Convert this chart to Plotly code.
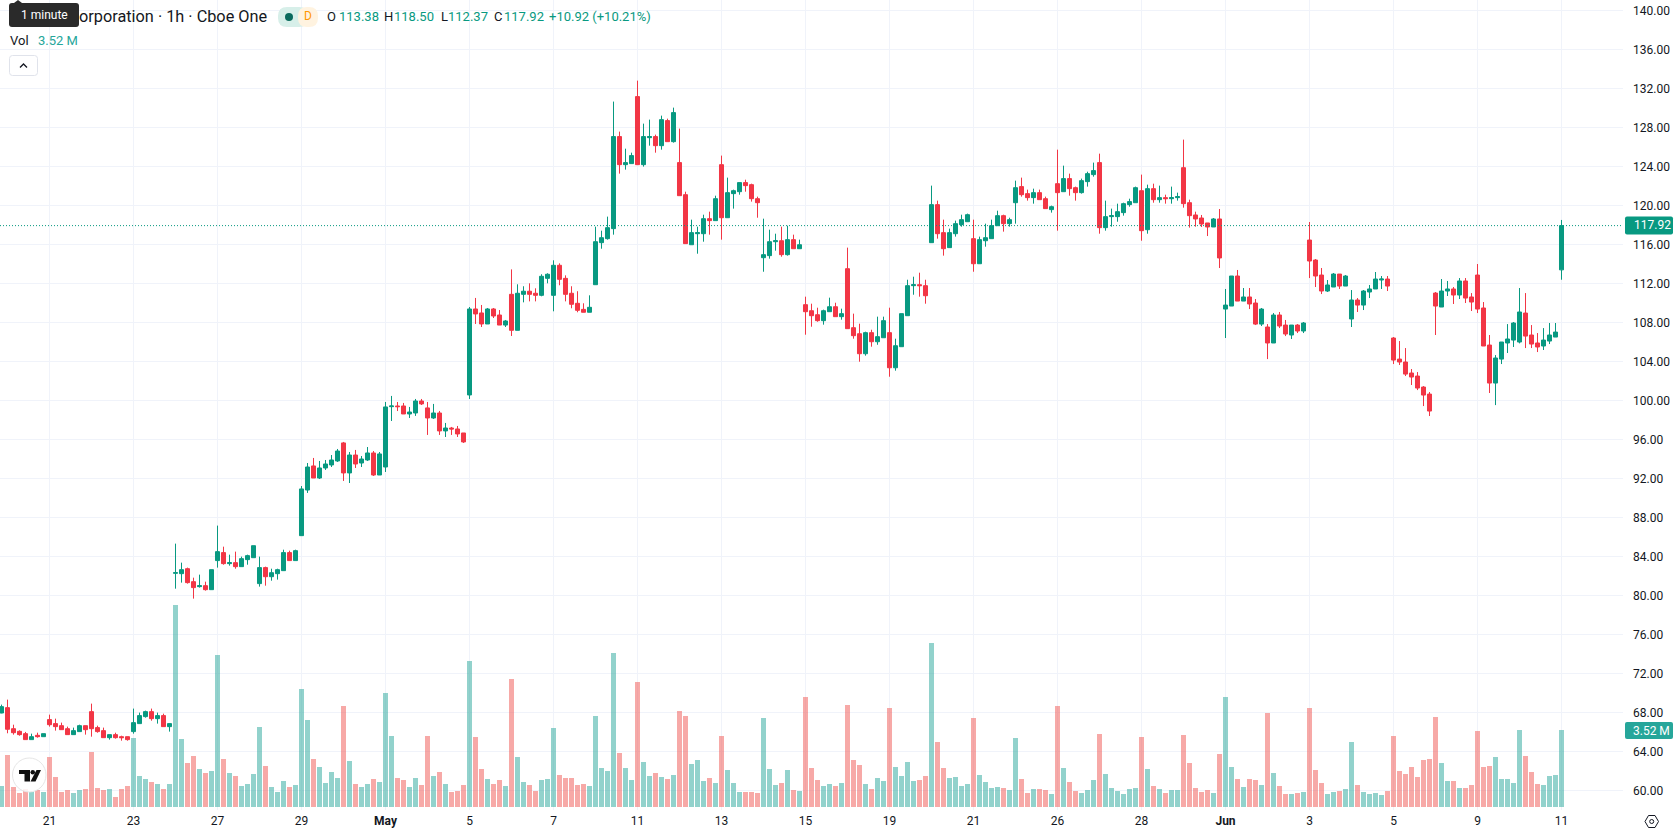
import plotly.graph_objects as go

FIG_W, FIG_H = 1678, 835
PLOT_R, PLOT_B = 1623, 810

GREEN = "#089981"
RED = "#f23645"
GREEN_VOL = "rgba(38,166,154,0.5)"
RED_VOL = "rgba(239,83,80,0.5)"
TEAL_TAG = "#26a69a"
INK = "#131722"
GRID = "#f0f3fa"
FONT = "Roboto"

opens = [
    67.93,68.48,66.32,66.05,65.81,65.20,65.64,65.50,67.25,66.84,
    66.63,66.32,65.71,66.02,66.63,68.07,66.43,66.12,65.40,65.71,
    65.50,65.50,66.02,66.84,67.56,68.07,67.35,67.66,66.53,82.26,
    82.22,82.73,81.40,80.89,80.99,80.58,83.56,84.38,83.25,83.35,
    82.94,83.66,83.86,81.20,82.84,81.91,82.22,82.53,84.38,83.56,
    86.12,90.80,93.27,92.03,93.06,93.37,93.78,95.63,92.55,94.39,
    93.57,93.88,94.60,92.34,93.16,99.35,99.42,99.42,98.60,98.70,
    99.93,99.22,98.19,98.70,96.86,97.16,97.06,96.65,100.55,109.37,
    108.96,107.83,109.37,108.75,107.72,110.87,107.18,110.87,111.19,110.98,
    110.77,112.51,110.77,113.85,112.51,110.98,109.95,109.33,109.03,111.86,
    116.17,116.58,117.61,127.05,124.17,124.28,131.15,124.17,126.94,127.05,
    126.12,128.69,126.53,124.38,121.09,115.96,117.09,117.09,118.63,118.43,
    124.17,118.73,121.20,121.40,122.33,122.12,120.68,114.63,114.84,116.27,
    116.37,114.94,116.48,115.55,109.81,109.19,108.78,108.17,109.09,109.60,
    108.58,113.50,107.45,106.83,104.78,106.94,106.01,106.42,106.94,103.34,
    105.50,108.68,111.76,111.86,111.76,116.17,120.07,117.20,115.66,117.09,
    118.02,118.32,116.58,114.01,116.37,116.58,117.91,118.94,118.12,120.27,
    121.92,121.20,120.79,121.30,120.68,119.56,122.22,121.40,122.74,121.81,
    121.30,122.43,123.15,124.38,117.71,118.84,118.84,119.25,120.07,120.27,
    121.50,117.50,121.71,120.58,120.79,120.68,120.79,123.86,120.27,119.01,
    118.70,118.19,117.78,118.60,109.36,109.67,112.75,110.18,110.60,109.98,
    107.82,107.52,105.88,108.75,107.72,106.70,107.72,107.11,116.44,114.39,
    112.85,111.21,111.62,112.95,111.72,108.34,110.29,109.77,111.11,111.42,
    112.34,112.44,106.39,104.23,103.93,102.80,102.49,101.36,100.64,111.00,
    109.57,111.21,111.42,110.80,112.24,110.60,112.85,109.47,105.67,101.77,
    104.23,105.88,106.18,105.98,108.95,106.70,105.88,105.57,106.08,106.49,
    113.38,
]
highs = [
    68.79,69.30,66.73,66.15,65.99,65.81,65.91,65.81,67.76,67.35,
    66.94,66.53,66.43,66.73,66.63,68.89,66.63,66.43,65.71,65.91,
    65.60,65.50,68.38,67.97,68.17,68.38,67.97,67.86,66.84,85.30,
    83.35,82.84,81.81,82.12,81.40,82.63,87.15,84.99,84.17,84.48,
    83.97,84.17,85.09,83.97,82.94,82.73,82.73,84.68,84.58,84.68,
    91.21,93.57,94.09,93.78,93.88,94.39,95.01,95.73,94.70,94.91,
    94.29,95.21,94.80,94.70,99.83,100.45,99.83,99.73,99.32,100.14,
    100.14,99.83,99.63,98.91,97.68,97.27,97.37,96.65,109.57,110.50,
    109.78,109.47,109.47,109.26,108.24,113.43,111.90,111.70,112.00,111.49,
    112.93,113.03,114.36,114.05,112.82,111.70,111.19,109.95,110.77,117.81,
    117.40,118.84,130.64,127.56,125.81,125.40,132.79,128.38,128.79,127.25,
    129.20,128.89,130.02,127.87,121.40,118.53,117.81,119.04,119.35,120.99,
    125.10,122.84,121.61,122.33,122.63,122.22,120.89,118.63,117.50,117.09,
    117.81,117.91,116.99,116.48,110.63,109.91,109.50,109.30,110.53,110.01,
    109.40,115.66,108.89,107.86,107.04,107.24,108.58,108.58,109.50,106.32,
    108.89,112.37,112.68,113.09,112.37,122.02,120.48,118.53,117.61,118.43,
    119.04,119.15,118.53,116.79,118.12,118.53,119.45,119.04,118.73,122.53,
    122.84,121.61,121.71,121.61,120.89,119.97,125.71,124.07,123.25,121.92,
    122.74,123.45,124.38,125.30,120.48,119.66,120.17,120.27,120.68,121.92,
    123.15,122.12,122.22,122.02,121.09,121.92,121.30,126.74,120.58,119.35,
    119.01,118.19,118.70,119.62,111.42,112.75,113.37,111.52,111.52,110.39,
    109.47,107.82,108.95,109.06,108.24,107.72,107.82,108.03,118.29,114.49,
    113.57,112.34,113.06,112.95,112.85,111.31,110.49,111.31,111.83,113.16,
    112.75,112.75,106.49,106.08,105.36,103.21,102.90,101.46,100.85,111.11,
    112.44,112.24,111.62,112.54,112.54,111.00,113.98,110.08,106.70,104.64,
    105.98,107.82,108.03,111.52,111.00,107.72,106.90,107.41,107.93,107.93,
    118.50,
]
lows = [
    67.90,65.85,65.71,65.60,65.20,65.20,65.40,65.50,66.53,66.12,
    66.22,65.71,65.71,66.02,65.71,65.50,65.91,65.40,65.20,65.30,
    65.09,65.09,65.81,66.84,67.45,67.14,66.84,66.53,66.02,80.68,
    81.30,81.20,79.66,80.79,80.48,80.58,82.84,83.14,83.04,82.73,
    82.94,83.14,83.86,80.89,80.99,81.50,81.61,82.53,83.56,83.56,
    86.12,90.50,92.03,91.93,92.86,93.16,93.68,91.73,91.52,93.06,
    93.16,93.78,92.24,92.34,92.65,97.88,98.90,98.60,98.19,98.40,
    99.52,96.45,98.09,96.45,96.24,96.45,96.24,95.63,100.14,107.83,
    107.52,107.83,108.44,107.72,107.52,106.60,107.18,110.05,110.15,110.15,
    110.67,112.00,109.13,111.80,110.15,109.44,109.03,109.03,109.03,111.86,
    115.55,116.48,116.99,123.25,123.66,124.28,124.17,123.97,126.12,125.40,
    125.71,126.53,126.43,120.99,116.07,115.96,115.04,116.27,116.99,118.43,
    116.48,118.73,119.66,121.09,121.40,120.38,118.73,113.19,114.53,115.35,
    114.73,114.84,115.55,115.55,106.73,107.55,108.06,107.76,109.09,108.58,
    108.27,107.35,106.32,103.96,104.58,105.50,105.70,106.42,102.42,103.04,
    105.50,108.68,110.83,110.63,109.91,116.17,116.58,114.84,115.66,116.79,
    117.81,118.32,113.19,114.01,115.76,116.58,117.91,117.30,117.81,118.12,
    120.89,120.48,120.17,120.58,119.66,119.25,117.40,121.40,120.99,120.48,
    121.20,121.92,122.94,117.09,117.40,117.81,118.32,118.94,119.86,120.27,
    116.37,117.09,120.27,120.27,120.17,120.17,120.48,119.76,117.71,117.81,
    117.78,116.85,117.78,113.57,106.39,109.67,110.18,110.18,109.36,107.72,
    107.62,104.23,105.88,107.41,106.59,106.29,106.90,106.90,112.54,111.62,
    110.90,111.11,111.62,111.42,111.72,107.52,109.06,109.26,110.49,111.42,
    111.42,111.21,103.72,103.62,102.49,101.57,101.05,99.41,98.39,106.70,
    109.57,110.70,109.88,110.39,109.98,109.16,108.95,105.57,100.75,99.51,
    103.72,104.85,105.47,105.84,105.36,105.36,104.95,105.16,105.77,106.49,
    112.37,
]
closes = [
    68.58,66.26,65.91,65.71,65.20,65.50,65.50,65.81,66.73,66.53,
    66.22,65.71,66.12,66.63,66.22,66.32,66.02,65.40,65.71,65.40,
    65.40,65.20,66.94,67.66,68.07,67.35,67.66,66.53,66.84,82.32,
    82.63,81.30,80.79,80.99,80.58,82.63,84.48,83.25,83.35,82.94,
    83.76,84.07,85.09,82.84,81.91,82.32,82.63,84.38,83.56,84.58,
    90.91,93.16,92.03,93.06,93.47,93.88,94.80,92.55,94.39,93.47,
    93.98,94.60,92.34,94.50,99.32,99.42,99.35,98.60,98.80,99.93,
    99.63,98.19,98.70,96.86,97.16,97.06,96.55,95.73,109.37,108.86,
    107.83,109.37,108.65,107.72,108.14,107.18,110.98,111.19,110.87,110.77,
    112.72,112.93,113.85,112.41,110.87,109.85,109.23,109.03,109.54,116.27,
    116.68,117.71,127.05,124.17,124.38,125.10,124.17,127.05,127.05,126.12,
    128.79,126.53,129.51,120.99,116.07,117.20,117.20,118.63,118.43,120.68,
    118.73,121.30,121.50,122.33,122.02,120.68,120.27,114.94,116.27,116.37,
    114.94,116.48,115.55,115.96,109.09,108.68,108.17,109.19,109.60,108.58,
    108.89,107.35,106.63,104.78,106.94,106.01,106.53,108.17,103.34,105.60,
    108.89,111.76,111.86,111.76,110.73,120.07,117.09,115.55,117.20,118.12,
    118.53,119.04,114.01,116.48,116.68,117.91,118.94,118.12,118.53,121.81,
    121.09,120.79,121.30,120.58,119.66,119.86,121.30,122.74,121.71,121.30,
    122.53,123.25,123.56,117.71,118.84,118.94,119.35,120.17,120.38,121.81,
    117.40,121.71,120.58,120.79,120.68,120.79,120.89,120.17,118.94,118.60,
    118.08,117.78,118.60,114.60,109.77,112.75,110.18,110.60,109.88,107.82,
    109.36,105.88,108.75,107.62,106.80,107.72,107.11,107.93,114.29,112.75,
    111.21,111.83,112.95,111.72,112.75,110.29,109.77,111.21,111.42,112.44,
    112.44,111.72,104.13,103.93,102.69,102.39,101.26,100.54,98.90,109.67,
    111.21,111.42,110.80,112.24,110.49,110.08,109.36,105.57,101.77,104.34,
    105.98,106.29,107.93,109.06,106.59,105.77,105.47,106.18,106.70,107.00,
    117.92,
]
# Hourly volume, in millions of shares
volumes = [
    0.96,2.38,0.91,0.64,0.82,0.69,0.78,0.69,2.29,1.37,
    0.69,0.78,0.64,0.78,0.82,2.51,0.87,0.78,0.82,0.46,
    0.82,0.96,3.15,1.42,1.28,1.14,1.05,0.82,1.05,9.24,
    3.11,2.01,2.33,1.74,1.55,1.65,6.95,2.19,1.55,1.42,
    0.96,1.05,1.51,3.66,1.87,0.91,0.69,1.19,0.91,1.01,
    5.39,3.98,2.19,1.83,1.10,1.60,1.33,4.62,2.10,1.05,
    0.91,1.05,1.28,1.14,5.21,3.25,1.33,1.23,0.91,1.33,
    1.01,3.25,1.42,1.60,1.05,0.69,0.73,1.01,6.68,3.20,
    1.74,1.28,1.05,1.23,0.96,5.85,2.29,1.14,1.01,0.73,
    1.23,1.28,3.61,1.46,1.33,1.33,1.01,1.05,0.96,4.16,
    1.78,1.65,7.04,2.47,1.78,1.23,5.72,2.06,1.42,1.55,
    1.37,1.28,1.46,4.39,4.16,1.97,2.15,1.19,1.33,1.10,
    3.25,1.69,1.10,0.69,0.69,0.69,0.64,4.07,1.74,1.01,
    1.10,1.69,0.78,0.73,5.03,1.78,1.23,0.96,1.05,0.96,
    1.10,4.66,2.15,1.92,1.05,0.82,1.33,1.19,4.53,1.83,
    1.42,2.06,1.19,1.23,1.42,7.50,2.97,1.78,1.33,1.37,
    0.96,1.05,4.07,1.46,1.14,0.87,0.91,0.87,0.78,3.15,
    1.28,0.64,0.82,0.82,0.78,0.59,4.62,1.78,1.14,0.73,
    0.64,0.78,1.23,3.34,1.51,0.87,0.73,0.59,0.82,0.87,
    3.20,1.74,0.96,0.82,0.64,0.78,0.78,3.29,2.01,0.87,
    0.69,0.78,0.64,2.42,5.03,1.83,1.28,0.91,1.28,1.23,
    1.01,4.30,1.55,0.96,0.59,0.59,0.64,0.69,4.53,1.69,
    1.10,0.59,0.69,0.73,0.82,2.97,1.01,0.69,0.59,0.64,
    0.55,0.73,3.25,1.65,1.51,1.83,1.37,2.15,2.19,4.11,
    2.01,1.19,1.19,0.87,0.87,1.01,3.47,1.83,1.87,2.29,
    1.28,1.28,1.10,3.52,2.33,1.60,1.05,1.01,1.42,1.46,
    3.52,
]
bar_index = list(range(len(closes)))

date_labels = ["21", "23", "27", "29", "<b>May</b>", "5", "7", "11", "13", "15",
               "19", "21", "26", "28", "<b>Jun</b>", "3", "5", "9", "11"]
date_positions = [8 + 14 * k for k in range(len(date_labels))]
price_ticks = list(range(60, 141, 4))


def px(x):
    return x / FIG_W


def py(y):
    return 1 - y / FIG_H


def rounded_box(x0, y0, x1, y1, r):
    """SVG path of a rounded rectangle, given in screen pixels."""
    pts = [
        f"M{px(x0 + r)},{py(y0)}", f"L{px(x1 - r)},{py(y0)}",
        f"Q{px(x1)},{py(y0)} {px(x1)},{py(y0 + r)}", f"L{px(x1)},{py(y1 - r)}",
        f"Q{px(x1)},{py(y1)} {px(x1 - r)},{py(y1)}", f"L{px(x0 + r)},{py(y1)}",
        f"Q{px(x0)},{py(y1)} {px(x0)},{py(y1 - r)}", f"L{px(x0)},{py(y0 + r)}",
        f"Q{px(x0)},{py(y0)} {px(x0 + r)},{py(y0)}", "Z",
    ]
    return " ".join(pts)


def polyline(points, close=False):
    d = " ".join(("M" if i == 0 else "L") + f"{px(x)},{py(y)}" for i, (x, y) in enumerate(points))
    return d + (" Z" if close else "")


def label(text, x, y, color=INK, size=13, anchor="left", **kw):
    return dict(text=text, x=px(x), y=py(y), xref="paper", yref="paper", xanchor=anchor,
                yanchor="middle", showarrow=False, align=anchor,
                font=dict(family=FONT, size=size, color=color), borderpad=0, **kw)


def panel(path, fill, line=None, width=1):
    return dict(type="path", path=path, xref="paper", yref="paper", fillcolor=fill,
                line=dict(color=line or "rgba(0,0,0,0)", width=width), layer="above")


bar_colors = [GREEN_VOL if c > o else RED_VOL for o, c in zip(opens, closes)]

fig = go.Figure()
fig.add_trace(go.Bar(x=bar_index, y=volumes, width=5 / 6, marker=dict(color=bar_colors, line_width=0),
                     yaxis="y", hoverinfo="skip", showlegend=False))
fig.add_trace(go.Candlestick(
    x=bar_index, open=opens, high=highs, low=lows, close=closes, yaxis="y2",
    whiskerwidth=0, hoverinfo="skip", showlegend=False,
    increasing=dict(line=dict(color=GREEN, width=1), fillcolor=GREEN),
    decreasing=dict(line=dict(color=RED, width=1), fillcolor=RED),
))

last_close = closes[-1]
shapes = [
    dict(type="line", xref="paper", x0=0, x1=px(PLOT_R), yref="y2", y0=last_close, y1=last_close,
         line=dict(color=GREEN, width=1, dash="1px,2px"), layer="above"),
    # Last-value tags on the price scale
    panel(rounded_box(1625, 216.5, 1673, 234.5, 2), GREEN),
    panel(rounded_box(1625, 722, 1673, 739, 2), TEAL_TAG),
    # Interval tooltip
    panel(rounded_box(9, 3, 79, 27, 3), "#2a2a2a"),
    panel(polyline([(14, 3), (18, 0), (22, 3)], close=True), "#2a2a2a"),
    # Status badges
    panel(rounded_box(278, 7, 308, 27, 9), "#d7efe9"),
    panel(rounded_box(298, 7, 318, 27, 9), "#fff3e0"),
    dict(type="circle", xref="paper", yref="paper", x0=px(285), x1=px(293), y0=py(21), y1=py(13),
         fillcolor="#0b6b5d", line=dict(width=0), layer="above"),
    # Collapse button
    panel(rounded_box(9.5, 55.5, 37.5, 75.5, 3), "#ffffff", "#e0e3eb"),
    dict(type="path", path=polyline([(20, 67.5), (23.5, 64), (27, 67.5)]), xref="paper", yref="paper",
         line=dict(color=INK, width=1.3), layer="above"),
    # Library badge
    dict(type="circle", xref="paper", yref="paper", x0=px(12.5), x1=px(46), y0=py(792), y1=py(758),
         fillcolor="rgba(255,255,255,0.85)", line=dict(color="#e6e6e6", width=1), layer="above"),
    panel(polyline([(19, 770), (30, 770), (30, 781.5), (24.5, 781.5), (24.5, 774), (19, 774)], close=True), "#111111"),
    panel(polyline([(36.5, 770), (41, 770), (35.5, 781.5), (30.5, 781.5)], close=True), "#111111"),
    dict(type="circle", xref="paper", yref="paper", x0=px(30.5), x1=px(35), y0=py(774.5), y1=py(770),
         fillcolor="#111111", line=dict(width=0), layer="above"),
    # Scale settings
    dict(type="path", xref="paper", yref="paper", layer="above", line=dict(color=INK, width=1),
         path=polyline([(1645, 821.5), (1648.5, 815.5), (1655, 815.5), (1658.5, 821.5), (1655, 827.5), (1648.5, 827.5)], close=True)),
    dict(type="circle", xref="paper", yref="paper", x0=px(1649.7), x1=px(1653.7), y0=py(823.5), y1=py(819.5),
         line=dict(color=INK, width=1), layer="above"),
]

head = "#089981"
annotations = [
    label("1 minute", 44, 15, color="#ffffff", size=12, anchor="center"),
    label("orporation · 1h · Cboe One", 269, 16.5, size=16.3, anchor="right"),
    label("D", 307.5, 16, color="#ff9800", size=12, anchor="center"),
    label("O", 326, 16.5), label("113.38", 338, 16.5, color=head),
    label("H", 383, 16.5), label("118.50", 393, 16.5, color=head),
    label("L", 440, 16.5), label("112.37", 447, 16.5, color=head),
    label("C", 493, 16.5), label("117.92", 503, 16.5, color=head),
    label("+10.92 (+10.21%)", 548, 16.5, color=head),
    label("Vol", 9, 40.5), label("3.52 M", 37, 40.5, color=TEAL_TAG),
    label("117.92", 1633, 225.5, color="#ffffff", size=12),
    label("3.52 M", 1632, 730.5, color="#ffffff", size=12),
]

fig.update_layout(
    width=FIG_W, height=FIG_H, autosize=False,
    margin=dict(l=0, r=0, t=0, b=0),
    paper_bgcolor="#ffffff", plot_bgcolor="#ffffff",
    font=dict(family=FONT, size=12, color=INK),
    showlegend=False, bargap=0, boxgap=0.33, boxgroupgap=0, dragmode=False,
    shapes=shapes, annotations=annotations,
    xaxis=dict(
        domain=[0, PLOT_R / FIG_W], range=[-0.25, 270.25], showgrid=True, gridcolor=GRID, gridwidth=1,
        zeroline=False, showline=False, ticks="", tickmode="array",
        tickvals=date_positions, ticktext=date_labels,
        rangeslider=dict(visible=False), fixedrange=True, ticklabelstandoff=2,
        tickfont=dict(family=FONT, size=12, color=INK),
    ),
    # Volume shares the pane with price but has its own hidden scale
    yaxis=dict(domain=[1 - PLOT_B / FIG_H, 1], range=[-0.137, 36.89], visible=False, fixedrange=True),
    yaxis2=dict(
        domain=[1 - PLOT_B / FIG_H, 1], range=[57.98, 141.06], overlaying="y", side="right",
        anchor="x", showgrid=True, gridcolor=GRID, gridwidth=1, zeroline=False, showline=False,
        tickmode="array", tickvals=price_ticks, ticktext=[f"{v:.2f}" for v in price_ticks],
        ticks="", ticklabelstandoff=9, fixedrange=True,
        tickfont=dict(family=FONT, size=12, color=INK),
    ),
)

fig.write_html("out.html", config=dict(displayModeBar=False))
